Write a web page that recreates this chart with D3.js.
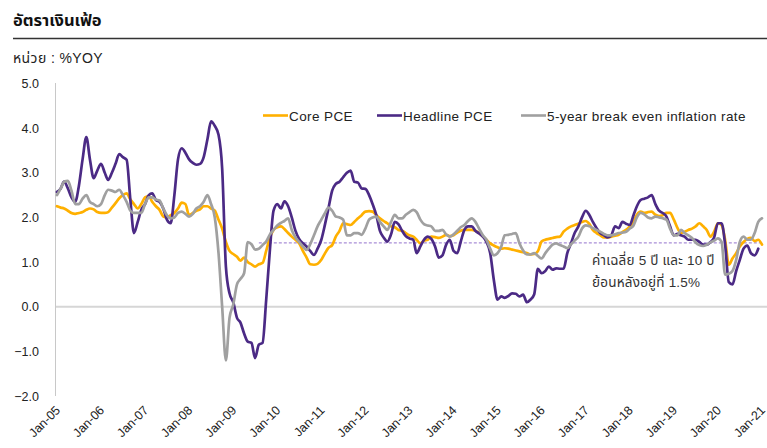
<!DOCTYPE html>
<html>
<head>
    <meta charset="utf-8">
    <title>อัตราเงินเฟ้อ</title>
    <script src="https://d3js.org/d3.v7.min.js"></script>
    <style>
        body { margin: 0; background: #fff; }
        svg { font-family: "Liberation Sans", Arial, "Noto Sans Thai", "Noto Sans", sans-serif; }
        .title { font-size: 16.5px; font-weight: bold; fill: #111; }
        .unit { font-size: 14px; fill: #222; letter-spacing: 0.4px; }
        .tick-label { font-size: 12.5px; fill: #222; }
        .legend text { font-size: 13.5px; fill: #222; letter-spacing: 0.4px; }
        .note { font-size: 13.5px; fill: #333; letter-spacing: 0.2px; }
        .series { fill: none; stroke-width: 2.7px; stroke-linejoin: round; stroke-linecap: round; }
    </style>
</head>
<body>
    <div id="chart"></div>
    <script>
        // monthly, Jan-05 .. Jan-21 (%YoY)
        const startMonth = new Date(2005, 0, 1);

        const corePCE = [
            2.25, 2.22, 2.2, 2.15, 2.1, 2.08, 2.1, 2.12, 2.17, 2.2, 2.18, 2.12,
            2.1, 2.1, 2.12, 2.22, 2.32, 2.43, 2.5, 2.54, 2.4, 2.3, 2.2, 2.3,
            2.45, 2.48, 2.35, 2.25, 2.17, 2.02, 2.0, 2.05, 2.1, 2.2, 2.33, 2.3,
            2.05, 2.1, 2.15, 2.18, 2.25, 2.25, 2.2, 2.15, 1.95, 1.75, 1.45, 1.25,
            1.18, 1.12, 1.03, 1.1, 1.0, 0.95, 0.9, 0.95, 0.98, 1.25, 1.55, 1.72,
            1.78, 1.8, 1.74, 1.65, 1.57, 1.5, 1.42, 1.25, 1.1, 0.95, 0.94, 0.96,
            1.05, 1.2, 1.32, 1.38, 1.57, 1.7, 1.87, 1.85, 1.83, 1.9, 1.98, 2.05,
            2.13, 2.14, 2.13, 2.05, 1.98, 1.92, 1.87, 1.8, 1.78, 1.72, 1.7, 1.65,
            1.6, 1.57, 1.5, 1.42, 1.48, 1.5, 1.57, 1.56, 1.54, 1.57, 1.61, 1.58,
            1.6, 1.66, 1.7, 1.72, 1.72, 1.72, 1.7, 1.65, 1.58, 1.5, 1.42, 1.37,
            1.33, 1.3, 1.31, 1.3, 1.28, 1.26, 1.24, 1.22, 1.2, 1.17, 1.18, 1.24,
            1.46, 1.5, 1.52, 1.54, 1.56, 1.57, 1.68, 1.75, 1.8, 1.83, 1.86, 1.9,
            1.92, 1.85, 1.72, 1.65, 1.6, 1.55, 1.55, 1.57, 1.59, 1.61, 1.67, 1.72,
            1.8, 1.9, 2.06, 2.13, 2.1, 2.12, 2.13, 2.06, 2.03, 2.05, 2.1, 2.1,
            1.95, 1.76, 1.65, 1.68, 1.72, 1.75, 1.8, 1.87, 1.8, 1.72, 1.57, 1.68,
            1.87, 1.83, 1.5, 0.94, 1.08, 1.2, 1.35, 1.45, 1.52, 1.54, 1.47, 1.5,
            1.39
        ];

        const headlinePCE = [
            2.57, 2.65, 2.8, 2.65, 2.45, 2.35, 2.7, 3.3, 3.8, 3.3, 2.88, 3.05,
            3.2, 3.0, 2.84, 3.0, 3.2, 3.42, 3.35, 3.29, 2.4, 1.65, 1.9, 2.17,
            2.3, 2.5, 2.54, 2.39, 2.35, 2.2, 1.95, 1.87, 2.5, 3.3, 3.55, 3.45,
            3.3, 3.22, 3.18, 3.2, 3.35, 3.75, 4.15, 4.05, 3.85, 3.1, 0.9, 0.3,
            0.1, -0.25, -0.35, -0.6, -0.78, -0.81, -1.15, -0.85, -0.81, 0.15, 1.28, 2.15,
            2.3, 2.2, 2.36, 2.25, 2.0, 1.7, 1.52, 1.42, 1.35, 1.25, 1.16, 1.3,
            1.5, 1.85, 2.2, 2.6, 2.75, 2.8, 2.9, 3.0, 3.05, 2.8, 2.78, 2.65,
            2.64, 2.5, 2.3, 2.05, 1.7, 1.55, 1.46, 1.62, 1.9, 1.85, 1.7, 1.58,
            1.53, 1.5, 1.2, 1.35, 1.5, 1.57, 1.52, 1.35, 1.1, 1.15, 1.39, 1.5,
            1.25, 1.2, 1.45, 1.72, 1.8, 1.8, 1.7, 1.64, 1.57, 1.45, 1.2, 0.6,
            0.16, 0.23, 0.2, 0.24, 0.3, 0.29, 0.23, 0.27, 0.1, 0.16, 0.28, 0.85,
            0.75, 0.8, 0.9, 0.83, 0.86, 0.85, 0.85, 1.2, 1.42, 1.65, 1.8, 2.0,
            2.15, 2.05, 1.9, 1.76, 1.65, 1.6, 1.55, 1.6, 1.8, 1.76, 1.9, 1.86,
            1.83, 2.05, 2.25, 2.39, 2.42, 2.45, 2.5, 2.3, 2.15, 2.1, 2.02, 1.8,
            1.6, 1.63, 1.6, 1.57, 1.5, 1.5, 1.5, 1.45, 1.39, 1.39, 1.45, 1.55,
            1.87, 1.87, 1.4, 0.55, 0.5, 0.8, 1.05, 1.3, 1.37, 1.2, 1.15, 1.3
        ];

        const breakeven5y = [
            2.5, 2.65, 2.8, 2.82, 2.6, 2.3, 2.3, 2.42, 2.5, 2.35, 2.3, 2.25,
            2.3, 2.5, 2.62, 2.6, 2.57, 2.62, 2.5, 2.35, 2.15, 2.1, 2.1, 2.1,
            2.3, 2.45, 2.45, 2.4, 2.38, 2.2, 2.05, 1.98, 2.0, 2.1, 2.13, 2.08,
            2.02, 2.08, 2.2, 2.25, 2.35, 2.5, 2.3, 2.0, 1.2, 0.0, -1.2, -0.25,
            0.05, 0.5, 0.62, 0.75, 1.45, 1.4, 1.28, 1.3, 1.38, 1.46, 1.62, 1.72,
            1.82, 1.88, 1.92, 1.98, 1.72, 1.55, 1.45, 1.35, 1.27, 1.4, 1.6, 1.8,
            1.95, 2.1, 2.22, 2.15, 2.02, 2.0, 1.95, 1.6, 1.6, 1.65, 1.65, 1.61,
            1.75, 1.95, 2.0, 2.02, 1.9, 1.8, 1.72, 1.9, 2.06, 1.98, 1.98, 2.06,
            2.12, 2.17, 2.12, 1.95, 1.85, 1.82, 1.8, 1.7, 1.7, 1.72, 1.62, 1.57,
            1.62, 1.7, 1.78, 1.83, 1.92, 1.98, 1.9, 1.75, 1.6, 1.5, 1.3, 1.15,
            1.2, 1.35, 1.6, 1.61, 1.63, 1.65, 1.42, 1.26, 1.17, 1.17, 1.2, 1.14,
            1.08, 1.2, 1.3, 1.39, 1.42, 1.38, 1.35, 1.31, 1.4, 1.48, 1.57, 1.75,
            1.82, 1.8, 1.76, 1.72, 1.68, 1.63, 1.6, 1.6, 1.62, 1.65, 1.66, 1.68,
            1.75, 1.82, 2.0, 2.1, 2.07, 2.0, 1.98, 2.02, 2.0, 1.98, 1.95, 1.75,
            1.6, 1.6, 1.72, 1.65, 1.6, 1.54, 1.44, 1.38, 1.36, 1.39, 1.44, 1.48,
            1.53, 1.45, 0.72, 0.74, 0.8, 1.05, 1.45, 1.57, 1.5, 1.5, 1.65, 1.9,
            1.98
        ];

        const seriesNames = ["Core PCE", "Headline PCE", "5-year break even inflation rate"];
        const seriesColors = ["#FFB000", "#4B2A85", "#A0A0A0"];
        const yTicks = [-2, -1, 0, 1, 2, 3, 4, 5];
        const xTickYears = d3.range(2005, 2022);
        const avgValue = 1.43;
        const avgFrom = new Date(2009, 7, 1);
        const avgTo = new Date(2021, 0, 1);
        const noteLines = ["ค่าเฉลี่ย 5 ปี และ 10 ปี", "ย้อนหลังอยู่ที่ 1.5%"];

        const width = 767, height = 448;
        const svg = d3.select("#chart").append("svg")
            .attr("width", width).attr("height", height);

        // header
        svg.append("text").attr("class", "title").attr("x", 13).attr("y", 26).text("อัตราเงินเฟ้อ");
        svg.append("line").attr("x1", 13).attr("x2", 767).attr("y1", 38.5).attr("y2", 38.5)
            .attr("stroke", "#333").attr("stroke-width", 1.5);
        svg.append("text").attr("class", "unit").attr("x", 13).attr("y", 63).text("หน่วย : %YOY");

        const x = d3.scaleTime().domain([startMonth, new Date(2021, 0, 1)]).range([57, 762]);
        const y = d3.scaleLinear().domain([-2, 5]).range([396, 83.5]);

        const dateAt = i => d3.timeMonth.offset(startMonth, i);

        // y axis
        svg.append("line").attr("x1", 55.5).attr("x2", 55.5).attr("y1", 83).attr("y2", 396)
            .attr("stroke", "#c8c8c8").attr("stroke-width", 1);
        svg.selectAll(".ylab").data(yTicks).enter().append("text")
            .attr("class", "tick-label")
            .attr("x", 39).attr("y", d => y(d) + 4.5)
            .attr("text-anchor", "end")
            .text(d => d3.format(".1f")(d));

        // zero line
        svg.append("line").attr("x1", 56).attr("x2", 767).attr("y1", y(0)).attr("y2", y(0))
            .attr("stroke", "#d6d6d6").attr("stroke-width", 2);

        // x labels
        svg.selectAll(".xlab").data(xTickYears).enter().append("text")
            .attr("class", "tick-label")
            .attr("text-anchor", "end")
            .attr("transform", d => `translate(${x(new Date(d, 0, 1)) + 4},${411}) rotate(-45)`)
            .text(d => "Jan-" + String(d).slice(2));

        // average dashed line
        svg.append("line")
            .attr("x1", x(avgFrom)).attr("x2", x(avgTo))
            .attr("y1", y(avgValue)).attr("y2", y(avgValue))
            .attr("stroke", "#A98FD8").attr("stroke-width", 1.3)
            .attr("stroke-dasharray", "3,2");

        // series
        const line = d3.line()
            .x((d, i) => x(dateAt(i)))
            .y(d => y(d))
            .curve(d3.curveMonotoneX);

        [corePCE, headlinePCE, breakeven5y].forEach((vals, k) => {
            svg.append("path")
                .datum(vals)
                .attr("class", "series")
                .attr("stroke", seriesColors[k])
                .attr("d", line);
        });

        // legend
        const legendX = [263, 377, 521];
        const legend = svg.append("g").attr("class", "legend");
        seriesNames.forEach((name, k) => {
            legend.append("line")
                .attr("x1", legendX[k]).attr("x2", legendX[k] + 25)
                .attr("y1", 115.5).attr("y2", 115.5)
                .attr("stroke", seriesColors[k]).attr("stroke-width", 2.6);
            legend.append("text")
                .attr("x", legendX[k] + 26).attr("y", 120.5)
                .text(name);
        });

        // note
        svg.selectAll(".note").data(noteLines).enter().append("text")
            .attr("class", "note")
            .attr("x", 592).attr("y", (d, i) => 265 + i * 22)
            .text(d => d);
    </script>
</body>
</html>
